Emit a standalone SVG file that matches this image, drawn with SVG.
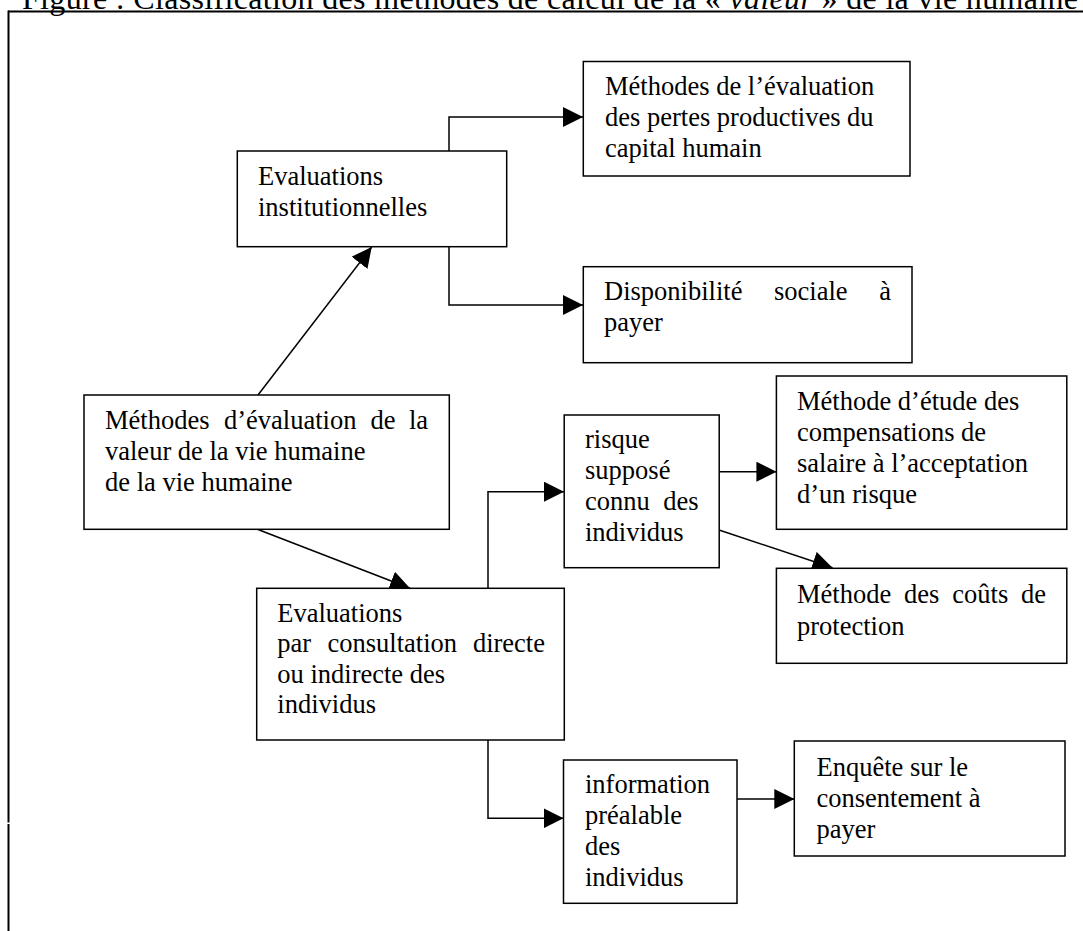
<svg xmlns="http://www.w3.org/2000/svg" width="1083" height="931" viewBox="0 0 1083 931">
<style>
  .box { fill: #ffffff; stroke: #000000; stroke-width: 1.5; }
  .t { font-family: "Liberation Serif", "Times New Roman", serif; font-size: 26.5px; fill: #000000; }
  .title { font-family: "Liberation Serif", "Times New Roman", serif; font-size: 32px; fill: #000000; }
  .conn { fill: none; stroke: #000000; stroke-width: 1.5; marker-end: url(#arrow); }
  .frame { fill: none; stroke: #000000; stroke-width: 2; }
</style>
<defs>
  <marker id="arrow" markerUnits="userSpaceOnUse" markerWidth="20" markerHeight="20" refX="20" refY="10" orient="auto" viewBox="0 0 20 20">
    <path d="M0,0 L20,10 L0,20 Z" fill="#000000"/>
  </marker>
</defs>
<rect width="1083" height="931" fill="#ffffff"/>

<text class="title" x="22" y="8.5" textLength="1056" lengthAdjust="spacing">Figure : Classification des méthodes de calcul de la « <tspan font-style="italic">valeur</tspan> » de la vie humaine</text>

<g id="frame">
  <line class="frame" x1="8" y1="11.5" x2="1083" y2="11.5"/>
  <line class="frame" x1="8.5" y1="10.5" x2="8.5" y2="822.5"/>
  <line class="frame" x1="8.5" y1="824" x2="8.5" y2="931"/>
</g>

<g id="connectors">
  <polyline class="conn" points="449,151 449,117 583,117"/>
  <polyline class="conn" points="449,247 449,305 583,305"/>
  <line class="conn" x1="258" y1="395" x2="371.7" y2="247"/>
  <line class="conn" x1="258" y1="529.5" x2="410" y2="588.3"/>
  <polyline class="conn" points="488,588 488,491.7 564,491.7"/>
  <line class="conn" x1="719" y1="471.7" x2="776.4" y2="471.7"/>
  <line class="conn" x1="719" y1="530" x2="832.5" y2="567.7"/>
  <polyline class="conn" points="488,740 488,818.3 563.5,818.3"/>
  <line class="conn" x1="737" y1="799" x2="794.3" y2="799"/>
</g>

<g id="node-pertes">
  <rect class="box" x="583.3" y="61.5" width="326.7" height="114.5"/>
  <text class="t" x="605" y="95">Méthodes de l’évaluation</text>
  <text class="t" x="605" y="126">des pertes productives du</text>
  <text class="t" x="605" y="157">capital humain</text>
</g>

<g id="node-institutionnelles">
  <rect class="box" x="237.3" y="151" width="269.4" height="95.7"/>
  <text class="t" x="258" y="185">Evaluations</text>
  <text class="t" x="258" y="216">institutionnelles</text>
</g>

<g id="node-disponibilite">
  <rect class="box" x="583.3" y="266.7" width="328.7" height="96"/>
  <text class="t" y="300"><tspan x="604">Disponibilité</tspan><tspan x="774">sociale</tspan><tspan x="891" text-anchor="end">à</tspan></text>
  <text class="t" x="604" y="331">payer</text>
</g>

<g id="node-methodes">
  <rect class="box" x="84" y="395" width="365.3" height="134.3"/>
  <text class="t" y="429"><tspan x="105">Méthodes</tspan><tspan x="224">d’évaluation</tspan><tspan x="370.5">de</tspan><tspan x="428" text-anchor="end">la</tspan></text>
  <text class="t" x="105" y="460">valeur de la vie humaine</text>
  <text class="t" x="105" y="491">de la vie humaine</text>
</g>

<g id="node-consultation">
  <rect class="box" x="256.7" y="588.3" width="307.6" height="151.7"/>
  <text class="t" x="277.3" y="621.5">Evaluations</text>
  <text class="t" y="652"><tspan x="277.3">par</tspan><tspan x="327.5">consultation</tspan><tspan x="545" text-anchor="end">directe</tspan></text>
  <text class="t" x="277.3" y="682.5">ou indirecte des</text>
  <text class="t" x="277.3" y="713">individus</text>
</g>

<g id="node-risque">
  <rect class="box" x="564.2" y="415" width="155" height="152.7"/>
  <text class="t" x="585" y="448">risque</text>
  <text class="t" x="585" y="479">supposé</text>
  <text class="t" y="510"><tspan x="585">connu</tspan><tspan x="698.5" text-anchor="end">des</tspan></text>
  <text class="t" x="585" y="541">individus</text>
</g>

<g id="node-etude">
  <rect class="box" x="776.4" y="376" width="290.4" height="153.3"/>
  <text class="t" x="797" y="410">Méthode d’étude des</text>
  <text class="t" x="797" y="441">compensations de</text>
  <text class="t" x="797" y="472">salaire à l’acceptation</text>
  <text class="t" x="797" y="503">d’un risque</text>
</g>

<g id="node-couts">
  <rect class="box" x="776.4" y="568.3" width="290.4" height="95"/>
  <text class="t" y="603"><tspan x="797">Méthode</tspan><tspan x="904">des</tspan><tspan x="952.3">coûts</tspan><tspan x="1046" text-anchor="end">de</tspan></text>
  <text class="t" x="797" y="635">protection</text>
</g>

<g id="node-information">
  <rect class="box" x="563.5" y="760" width="173.5" height="143.3"/>
  <text class="t" x="585" y="793">information</text>
  <text class="t" x="585" y="824">préalable</text>
  <text class="t" x="585" y="855">des</text>
  <text class="t" x="585" y="886">individus</text>
</g>

<g id="node-enquete">
  <rect class="box" x="794.3" y="741" width="270.7" height="115"/>
  <text class="t" x="816.5" y="776">Enquête sur le</text>
  <text class="t" x="816.5" y="807">consentement à</text>
  <text class="t" x="816.5" y="838">payer</text>
</g>
</svg>
